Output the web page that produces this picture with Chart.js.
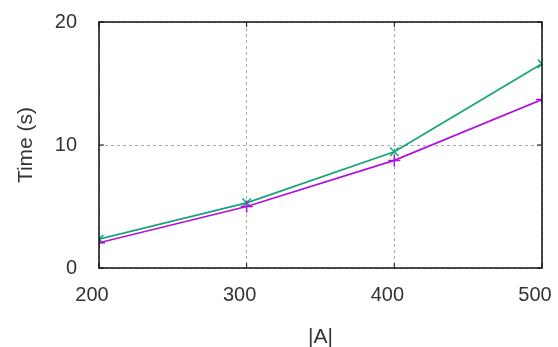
<!DOCTYPE html>
<html><head><meta charset="utf-8">
<script src="https://cdn.jsdelivr.net/npm/chart.js@4"></script>
<style>html,body{margin:0;padding:0;background:#fff;overflow:hidden}#wrap{width:558px;height:347px}</style>
</head><body><div id="wrap"><canvas id="c"></canvas></div>
<script>
const sizes = [200, 300, 400, 500];
const seriesPurple = [2.05, 5.0, 8.75, 13.7];
const seriesTeal = [2.35, 5.3, 9.45, 16.6];
const xTicks = [200, 300, 400, 500];
const yTicks = [0, 10, 20];

const frame = {
  id: 'frame',
  afterDraw(chart) {
    const {ctx, chartArea: a, scales} = chart;
    ctx.save();
    ctx.strokeStyle = '#111'; ctx.lineWidth = 1.5;
    ctx.strokeRect(a.left, a.top, a.right - a.left, a.bottom - a.top);
    ctx.lineWidth = 1;
    xTicks.forEach(v => { const x = scales.x.getPixelForValue(v);
      ctx.beginPath(); ctx.moveTo(x, a.bottom); ctx.lineTo(x, a.bottom - 5);
      ctx.moveTo(x, a.top); ctx.lineTo(x, a.top + 5); ctx.stroke(); });
    yTicks.forEach(v => { const y = scales.y.getPixelForValue(v);
      ctx.beginPath(); ctx.moveTo(a.left, y); ctx.lineTo(a.left + 5, y);
      ctx.moveTo(a.right, y); ctx.lineTo(a.right - 5, y); ctx.stroke(); });
    ctx.restore();
  }
};

const font = { family: 'Liberation Sans', size: 21 };
const tickFont = { family: 'Liberation Sans', size: 20 };
new Chart(document.getElementById('c'), {
  type: 'line',
  data: { datasets: [
    { data: sizes.map((x, i) => ({x, y: seriesPurple[i]})), borderColor: '#b010e0', backgroundColor: '#b010e0',
      pointStyle: 'cross', pointRadius: 6, pointBorderWidth: 1.5, borderWidth: 1.7, tension: 0 },
    { data: sizes.map((x, i) => ({x, y: seriesTeal[i]})), borderColor: '#14a37a', backgroundColor: '#14a37a',
      pointStyle: 'crossRot', pointRadius: 6, pointBorderWidth: 1.5, borderWidth: 1.7, tension: 0 }
  ]},
  options: {
    responsive: true, maintainAspectRatio: false, animation: false,
    layout: { padding: { left: 0, right: 16, top: 22, bottom: 0 } },
    plugins: { legend: { display: false }, tooltip: { enabled: false } },
    scales: {
      x: { type: 'linear', min: 200, max: 500,
        afterBuildTicks: s => { s.ticks = xTicks.map(v => ({value: v})); },
        afterFit: s => { s.height = 79; s.paddingLeft = 0; s.paddingRight = 0; },
        grid: { color: '#aaa', lineWidth: 1, drawTicks: false },
        border: { display: false, dash: [3, 3] },
        ticks: { color: '#333', font: tickFont, padding: 15, maxRotation: 0, labelOffset: -7 },
        title: { display: true, text: '|A|', color: '#333', font, padding: { top: 0, bottom: -3 } } },
      y: { min: 0, max: 20,
        afterBuildTicks: s => { s.ticks = yTicks.map(v => ({value: v})); },
        afterFit: s => { s.width = 99; s.paddingTop = 0; s.paddingBottom = 0; },
        grid: { color: '#aaa', lineWidth: 1, drawTicks: false },
        border: { display: false, dash: [3, 3] },
        ticks: { color: '#333', font: tickFont, padding: 22 },
        title: { display: true, text: 'Time (s)', color: '#333', font, padding: { bottom: 0, top: 14 } } }
    }
  },
  plugins: [frame]
});
</script></body></html>
